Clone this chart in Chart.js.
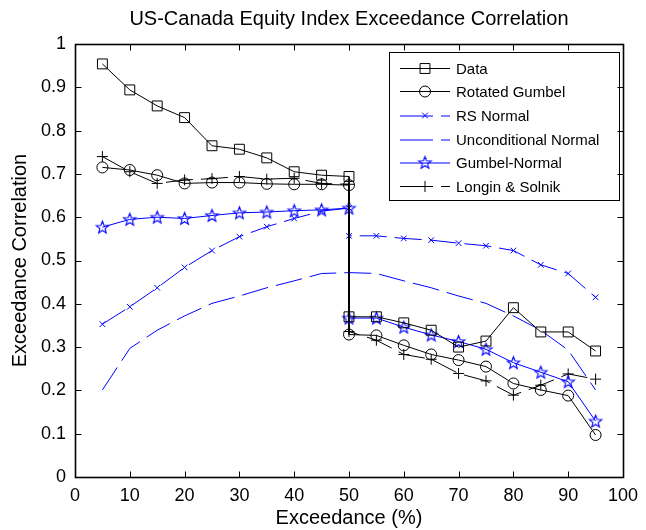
<!DOCTYPE html>
<html>
<head>
<meta charset="utf-8">
<script src="https://cdn.jsdelivr.net/npm/chart.js@4.4.1/dist/chart.umd.min.js"></script>
<style>
  html, body { margin: 0; padding: 0; background: #fff; }
  canvas { display: block; }
</style>
</head>
<body>
<canvas id="chart" width="646" height="530"></canvas>
<script>
// Exceedance levels (%); 50 appears twice: lower-tail value, then upper-tail value
const exceedance = [5, 10, 15, 20, 25, 30, 35, 40, 45, 50, 50, 55, 60, 65, 70, 75, 80, 85, 90, 95];

const dataCorr = [0.954, 0.894, 0.857, 0.830, 0.765, 0.757, 0.737, 0.705, 0.697, 0.694,
                  0.370, 0.370, 0.356, 0.339, 0.300, 0.314, 0.391, 0.335, 0.335, 0.291];
const rotatedGumbel = [0.715, 0.709, 0.697, 0.678, 0.680, 0.680, 0.677, 0.676, 0.676, 0.674,
                       0.329, 0.327, 0.304, 0.283, 0.270, 0.255, 0.216, 0.201, 0.188, 0.097];
const rsNormal = [0.353, 0.393, 0.437, 0.484, 0.523, 0.555, 0.578, 0.597, 0.614, 0.621,
                  0.557, 0.557, 0.551, 0.547, 0.540, 0.534, 0.523, 0.490, 0.470, 0.415];
const unconditionalNormal = [0.201, 0.297, 0.339, 0.372, 0.401, 0.418, 0.437, 0.453, 0.470, 0.472,
                             0.472, 0.470, 0.453, 0.437, 0.418, 0.401, 0.372, 0.339, 0.293, 0.201];
const gumbelNormal = [0.577, 0.595, 0.600, 0.597, 0.604, 0.610, 0.612, 0.615, 0.617, 0.621,
                      0.367, 0.367, 0.346, 0.328, 0.313, 0.295, 0.264, 0.242, 0.220, 0.129];
const longinSolnik = [0.740, 0.705, 0.678, 0.686, 0.689, 0.694, 0.688, 0.690, 0.678, 0.676,
                      0.336, 0.316, 0.283, 0.272, 0.239, 0.222, 0.189, 0.212, 0.238, 0.226];

const seriesLabels = ['Data', 'Rotated Gumbel', 'RS Normal', 'Unconditional Normal', 'Gumbel-Normal', 'Longin & Solnik'];

const xTickValues = [0, 10, 20, 30, 40, 50, 60, 70, 80, 90, 100];
const xTickLabels = ['0', '10', '20', '30', '40', '50', '60', '70', '80', '90', '100'];
const yTickValues = [0, 0.1, 0.2, 0.3, 0.4, 0.5, 0.6, 0.7, 0.8, 0.9, 1];
const yTickLabels = ['0', '0.1', '0.2', '0.3', '0.4', '0.5', '0.6', '0.7', '0.8', '0.9', '1'];

const chartTitle = 'US-Canada Equity Index Exceedance Correlation';
const xTitle = 'Exceedance (%)';
const yTitle = 'Exceedance Correlation';

const FONT = '"Liberation Sans", Arial, Helvetica, sans-serif';
const BLACK = '#000000';
const BLUE = '#0000ff';
const DASH = [27, 8];

// Hollow five-pointed star marker
function makePentagram(color, r) {
  const s = Math.ceil(r * 2 + 4);
  const cv = document.createElement('canvas');
  cv.width = s; cv.height = s;
  const g = cv.getContext('2d');
  g.strokeStyle = color;
  g.lineWidth = 1.1;
  g.beginPath();
  for (let i = 0; i < 10; i++) {
    const rad = i % 2 === 0 ? r : r * 0.42;
    const a = -Math.PI / 2 + i * Math.PI / 5;
    const px = s / 2 + rad * Math.cos(a);
    const py = s / 2 + rad * Math.sin(a) + 0.5;
    if (i === 0) g.moveTo(px, py); else g.lineTo(px, py);
  }
  g.closePath();
  g.stroke();
  return cv;
}
const starMarker = makePentagram(BLUE, 6.5);

function toPoints(values) {
  return exceedance.map((x, i) => ({ x: x, y: values[i] }));
}

function series(label, values, color, dash, pointStyle, radius) {
  return {
    label: label,
    data: toPoints(values),
    borderColor: color,
    borderWidth: 1,
    borderDash: dash,
    tension: 0,
    fill: false,
    pointStyle: pointStyle,
    pointRadius: radius,
    pointHoverRadius: radius,
    pointBorderColor: color,
    pointBackgroundColor: 'rgba(0,0,0,0)',
    pointBorderWidth: 1
  };
}

const datasets = [
  series(seriesLabels[0], dataCorr, BLACK, [], 'rect', 7),
  series(seriesLabels[1], rotatedGumbel, BLACK, [], 'circle', 5.5),
  series(seriesLabels[2], rsNormal, BLUE, DASH, 'crossRot', 4),
  series(seriesLabels[3], unconditionalNormal, BLUE, DASH, false, 0),
  series(seriesLabels[4], gumbelNormal, BLUE, [], starMarker, 6.5),
  series(seriesLabels[5], longinSolnik, BLACK, DASH, 'cross', 5.5)
];

// Box, inward ticks on all four sides, title and axis titles
const framePlugin = {
  id: 'frame',
  afterDraw(chart) {
    const ctx = chart.ctx;
    const a = chart.chartArea;
    const xs = chart.scales.x, ys = chart.scales.y;
    const L = Math.round(a.left) + 0.5, R = Math.round(a.right) + 0.5;
    const T = Math.round(a.top) + 0.5, B = Math.round(a.bottom) + 0.5;
    const tick = 6;
    ctx.save();
    ctx.strokeStyle = BLACK;
    ctx.setLineDash([]);
    ctx.lineWidth = 1.6;
    ctx.strokeRect(L, T, R - L, B - T);
    ctx.lineWidth = 1;
    ctx.beginPath();
    xTickValues.forEach(v => {
      const px = Math.round(xs.getPixelForValue(v)) + 0.5;
      ctx.moveTo(px, B); ctx.lineTo(px, B - tick);
      ctx.moveTo(px, T); ctx.lineTo(px, T + tick);
    });
    yTickValues.forEach(v => {
      const py = Math.round(ys.getPixelForValue(v)) + 0.5;
      ctx.moveTo(L, py); ctx.lineTo(L + tick, py);
      ctx.moveTo(R, py); ctx.lineTo(R - tick, py);
    });
    ctx.stroke();

    const cx = (a.left + a.right) / 2;
    const cy = (a.top + a.bottom) / 2;
    ctx.fillStyle = BLACK;
    ctx.textAlign = 'center';
    ctx.textBaseline = 'alphabetic';
    ctx.font = '20px ' + FONT;
    ctx.fillText(chartTitle, cx, 25);
    ctx.fillText(xTitle, cx, 524);
    ctx.translate(26, cy);
    ctx.rotate(-Math.PI / 2);
    ctx.fillText(yTitle, 0, 0);
    ctx.restore();
  }
};

// Boxed legend with line sample and marker for each series
const legendPlugin = {
  id: 'boxLegend',
  afterDatasetsDraw(chart) {
    const ctx = chart.ctx;
    const bx = 389.5, by = 52.5, bw = 230, bh = 148;
    const rowY0 = 67.5, rowStep = 23.7;
    const lineX0 = 400, lineX1 = 450, markX = 425, textX = 456;
    ctx.save();
    ctx.fillStyle = '#ffffff';
    ctx.fillRect(bx, by, bw, bh);
    ctx.strokeStyle = BLACK;
    ctx.lineWidth = 1;
    ctx.setLineDash([]);
    ctx.strokeRect(bx, by, bw, bh);
    chart.data.datasets.forEach((ds, i) => {
      const yc = Math.round(rowY0 + i * rowStep);
      const y = yc + 0.5;
      // blue samples sit between pixel rows, giving the softer look of the plot lines
      const ly = ds.borderColor === BLUE ? yc + 1 : y;
      ctx.strokeStyle = ds.borderColor;
      ctx.lineWidth = 1;
      ctx.setLineDash(ds.borderDash && ds.borderDash.length ? [33, 8] : []);
      ctx.beginPath();
      ctx.moveTo(lineX0, ly);
      ctx.lineTo(lineX1, ly);
      ctx.stroke();
      ctx.setLineDash([]);
      if (ds.pointStyle && ds.pointRadius > 0) {
        ctx.fillStyle = 'rgba(0,0,0,0)';
        ctx.strokeStyle = ds.borderColor;
        Chart.helpers.drawPoint(ctx, {
          pointStyle: ds.pointStyle,
          radius: ds.pointRadius,
          rotation: 0,
          borderWidth: 1
        }, markX, y);
      }
      ctx.fillStyle = BLACK;
      ctx.font = '15px ' + FONT;
      ctx.textAlign = 'left';
      ctx.textBaseline = 'middle';
      ctx.fillText(ds.label, textX, y + 1);
    });
    ctx.restore();
  }
};

new Chart(document.getElementById('chart'), {
  type: 'line',
  data: { datasets: datasets },
  options: {
    responsive: false,
    devicePixelRatio: 1,
    animation: false,
    events: [],
    layout: { padding: { left: 0, right: 21, top: 44, bottom: 0 } },
    plugins: {
      legend: { display: false },
      title: { display: false },
      tooltip: { enabled: false }
    },
    scales: {
      x: {
        type: 'linear',
        min: 0,
        max: 100,
        afterBuildTicks(scale) { scale.ticks = xTickValues.map(v => ({ value: v })); },
        afterFit(scale) { scale.height = 53; },
        grid: { display: false, drawTicks: false },
        border: { display: false },
        ticks: {
          padding: 8,
          color: BLACK,
          maxRotation: 0,
          autoSkip: false,
          font: { family: FONT, size: 18 },
          callback: (v, i) => xTickLabels[i]
        }
      },
      y: {
        type: 'linear',
        min: 0,
        max: 1,
        afterBuildTicks(scale) { scale.ticks = yTickValues.map(v => ({ value: v })); },
        afterFit(scale) { scale.width = 75; },
        grid: { display: false, drawTicks: false },
        border: { display: false },
        ticks: {
          padding: 9,
          color: BLACK,
          autoSkip: false,
          font: { family: FONT, size: 18 },
          callback: (v, i) => yTickLabels[i]
        }
      }
    }
  },
  plugins: [framePlugin, legendPlugin]
});
</script>
</body>
</html>
